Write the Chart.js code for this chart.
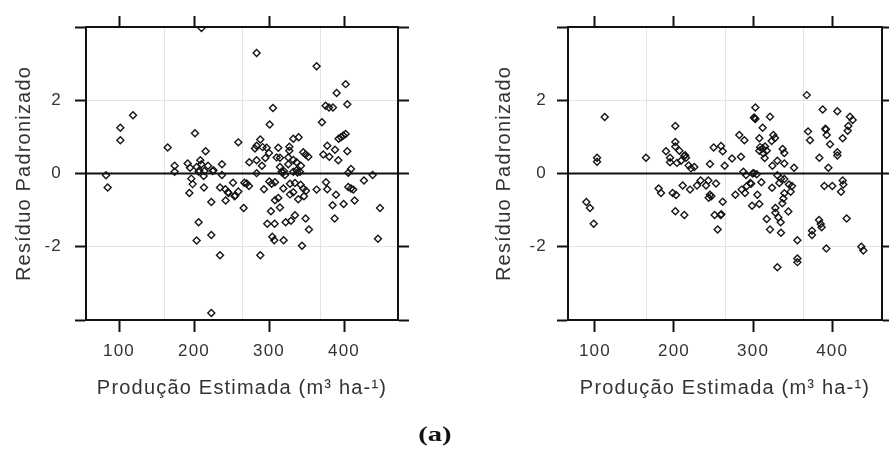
<!DOCTYPE html>
<html>
<head>
<meta charset="utf-8">
<script src="https://cdn.jsdelivr.net/npm/chart.js@4.4.1/dist/chart.umd.min.js"></script>
<style>
  body { margin: 0; background: #fff; }
  #wrap { position: relative; width: 889px; height: 449px; overflow: hidden; }
  #c1 { position: absolute; left: 0; top: 0; }
  #c2 { position: absolute; left: 480px; top: 0; }
  #tag { position: absolute; left: 0; top: 421px; width: 870px; text-align: center;
         font: bold 22px "Liberation Serif", "Times New Roman", serif; color: #111; }
  #tag span { display: inline-block; transform: scaleX(1.3); }
</style>
</head>
<body>
<div id="wrap">
  <canvas id="c1" width="480" height="449"></canvas>
  <canvas id="c2" width="409" height="449"></canvas>
  <div id="tag"><span>(a)</span></div>
</div>
<script>
// eixos
var xTicks = [100, 200, 300, 400];
var yTicks = [-4, -2, 0, 2, 4];
var xLimA = [56, 472];
var xLimB = [66, 463];
var yLim = [-4, 4];
var xTitle = 'Produção Estimada (m³ ha-¹)';
var yTitle = 'Resíduo Padronizado';

// painel esquerdo: produção estimada x resíduo padronizado
var xA = [118.7, 101.8, 101.8, 82.7, 84.9, 164.9, 201.3, 215.5, 259.1, 174.2, 174.2, 191.6, 194.7, 203.5, 208.4, 209.8,
  218.7, 213.8, 206.2, 207, 224.9, 226, 237.3, 237.3, 196.4, 198.2, 212.9, 213.3, 193.8, 223.1, 234.7, 241.8, 245.3, 246,
  254.2, 255, 252, 242.2, 259.1, 267.1, 266.2, 206.2, 223.1, 203.5, 234.7, 223.1, 210,
  283.5, 363.5, 402.2, 390.2, 404.4, 375.5, 380, 385.3, 305.3, 300.9, 370.6, 392.8, 396, 399.1, 402.2, 332.4, 339.5,
  288.4, 283.5, 281.3, 291.5, 296.9, 312.4, 327.1, 327.1, 300, 295.1, 283.5, 273.7, 290.6, 310.2, 314.6, 325.7, 332.4,
  336.8, 345.7, 348.8, 352.4, 377.7, 388, 404.4, 372.4, 380.4, 392.4, 314.6, 316.9, 321.3, 318, 320, 332.4, 336.8, 341.3,
  338, 342.6, 325.7, 409.3, 405.7, 438.2, 426.6, 270.2, 273.3, 283.5, 300.4, 303.5, 308, 293.3, 319.1, 328, 334.6, 342.2,
  345.7, 349.3, 376, 377.7, 363.5, 405.7, 409.3, 412.4, 389.3, 414.2, 328, 332.4, 312.4, 308, 339, 346.6, 314.6, 302.6,
  384.8, 399.5, 448, 334.6, 329.3, 322.2, 297.7, 307.5, 348.8, 387.5, 353.3, 304.4, 307, 319.5, 344, 445.3, 288.4];
var yA = [1.59, 1.25, 0.91, -0.05, -0.38, 0.71, 1.10, 0.61, 0.85, 0.21, 0.05, 0.27, 0.16, 0.18, 0.36, 0.25,
  0.21, 0.07, 0.05, 0.08, 0.07, 0.09, 0.25, -0.04, -0.14, -0.29, -0.07, -0.38, -0.53, -0.78, -0.38, -0.43, -0.51, -0.53,
  -0.62, -0.60, -0.25, -0.74, -0.49, -0.25, -0.94, -1.33, -1.68, -1.83, -2.23, -3.81, 3.97,
  3.29, 2.93, 2.44, 2.20, 1.89, 1.85, 1.80, 1.80, 1.79, 1.34, 1.40, 0.95, 0.99, 1.04, 1.08, 0.95, 0.99,
  0.93, 0.76, 0.68, 0.72, 0.70, 0.70, 0.73, 0.62, 0.56, 0.42, 0.36, 0.31, 0.21, 0.44, 0.43, 0.44, 0.37,
  0.31, 0.58, 0.52, 0.46, 0.76, 0.65, 0.61, 0.52, 0.46, 0.36, 0.18, 0.05, -0.04, 0.02, 0.06, 0.05, 0.09, 0.05,
  0.03, 0.21, 0.25, 0.12, 0.02, -0.04, -0.19, -0.27, -0.34, 0.01, -0.22, -0.28, -0.24, -0.43, -0.41, -0.28, -0.26, -0.31,
  -0.41, -0.47, -0.24, -0.43, -0.44, -0.37, -0.41, -0.44, -0.58, -0.74, -0.57, -0.51, -0.67, -0.73, -0.70, -0.62, -0.93, -1.03,
  -0.87, -0.83, -0.94, -1.14, -1.29, -1.33, -1.37, -1.37, -1.23, -1.23, -1.53, -1.73, -1.82, -1.82, -1.97, -1.78, -2.23];

// painel direito
var xB = [112.4, 102.7, 102.7, 164.6, 89.2, 93.8, 98.5, 201.7, 201.7, 201.7, 189.9, 206.8, 195, 195, 203.8, 208.9,
  213.1, 214, 215.2, 218.6, 221.5, 225.7, 250.2, 259.5, 261.6, 245.5, 180.6, 183.6, 198.3, 202.6, 211, 220.3, 229.1,
  233.7, 243.4, 240.5, 253.1, 245.5, 243.9, 247.2, 201.7, 213.1, 251.4, 259, 255.2,
  367.8, 302.9, 301.2, 302.9, 302, 321.4, 388, 406.5, 422.5, 425.9, 420.4, 419.6, 391.4, 392, 393.1, 369.5, 372, 413.3,
  397.3, 406.5, 406.5, 383.8, 395.2, 312.1, 282.6, 289, 307.9, 325.6, 327.7, 323.5, 308.8, 312.1, 315.1, 317.2, 307.9,
  313, 337.4, 339.5, 273.4, 284.7, 314.7, 264.1, 330.7, 339.5, 351.8, 324.4, 287.7, 291.1, 299.5, 301, 304.6, 330.7,
  335.3, 339.5, 345.4, 349.2, 310.5, 296.5, 297.5, 333.2, 347.5, 339.5, 338.3, 337, 291.9, 285.6, 289.8, 277.6, 324,
  305.4, 261.6, 298.7, 307.9, 259.9, 328.2, 328.2, 344.6, 332, 334.9, 317.2, 321.4, 335.3, 356, 356, 356, 330.7, 390.1,
  400.2, 413.3, 414.1, 411.2, 383.4, 385.5, 386.7, 374.5, 374.5, 418.3, 392.6, 436.9, 439.4];
var yB = [1.54, 0.43, 0.32, 0.43, -0.78, -0.94, -1.37, 1.30, 0.86, 0.74, 0.61, 0.62, 0.43, 0.31, 0.29, 0.35,
  0.48, 0.50, 0.43, 0.22, 0.14, 0.18, 0.71, 0.75, 0.61, 0.26, -0.41, -0.53, -0.53, -0.59, -0.33, -0.44, -0.33,
  -0.19, -0.19, -0.33, -0.27, -0.58, -0.66, -0.62, -1.03, -1.13, -1.13, -1.13, -1.53,
  2.14, 1.80, 1.53, 1.49, 1.51, 1.55, 1.75, 1.70, 1.55, 1.46, 1.30, 1.17, 1.22, 1.20, 1.05, 1.15, 0.91, 0.96,
  0.80, 0.58, 0.49, 0.43, 0.16, 1.25, 1.05, 0.91, 0.96, 1.05, 0.97, 0.89, 0.72, 0.68, 0.74, 0.62, 0.62,
  0.55, 0.67, 0.56, 0.41, 0.46, 0.42, 0.21, 0.35, 0.27, 0.16, 0.21, 0.05, -0.04, 0.00, 0.01, -0.02, -0.05,
  -0.14, -0.15, -0.30, -0.34, -0.24, -0.26, -0.28, -0.26, -0.50, -0.54, -0.68, -0.81, -0.35, -0.44, -0.53, -0.58, -0.39,
  -0.58, -0.77, -0.88, -0.83, -1.11, -0.94, -1.07, -1.04, -1.20, -1.33, -1.24, -1.53, -1.62, -1.82, -2.32, -2.42, -2.56, -0.34,
  -0.34, -0.19, -0.30, -0.50, -1.27, -1.38, -1.47, -1.56, -1.68, -1.23, -2.05, -2.00, -2.10];

Chart.defaults.font.family = '"Liberation Sans", Arial, sans-serif';
Chart.defaults.color = '#333';

var spacing = {
  id: 'spacing',
  beforeDraw: function (chart) { chart.ctx.letterSpacing = '1.2px'; }
};

function pts(xs, ys) {
  return xs.map(function (x, i) { return { x: x, y: ys[i] }; });
}

function fixTicks(list) {
  return function (axis) { axis.ticks = list.map(function (v) { return { value: v }; }); };
}

function quarterTicks(axis) {
  var a = [];
  for (var k = 1; k < 4; k++) a.push({ value: axis.min + (axis.max - axis.min) * k / 4 });
  axis.ticks = a;
}

function makePanel(id, xs, ys, xLim, leftW, rightW, labPad) {
  var black = '#111';
  var edge = function (c) {
    var v = c.tick ? c.tick.value : null;
    return (v === 0 || Math.abs(v) === 4) ? 'rgba(0,0,0,0)' : '#e4e4e4';
  };
  return new Chart(document.getElementById(id), {
    type: 'scatter',
    data: {
      datasets: [{
        data: pts(xs, ys),
        pointStyle: 'rectRot',
        pointRadius: 3.5,
        borderColor: '#151515',
        backgroundColor: 'rgba(0,0,0,0)',
        borderWidth: 1.4,
        order: 1
      }, {
        type: 'line',
        data: [{ x: xLim[0], y: 0 }, { x: xLim[1], y: 0 }],
        borderColor: black,
        borderWidth: 2,
        pointRadius: 0,
        order: 2
      }]
    },
    plugins: [spacing],
    options: {
      responsive: false,
      animation: false,
      layout: { padding: 0 },
      plugins: { legend: { display: false }, tooltip: { enabled: false } },
      scales: {
        x: {
          type: 'linear', position: 'bottom', min: xLim[0], max: xLim[1],
          afterBuildTicks: fixTicks(xTicks),
          afterFit: function (s) { s.height = 129; },
          grid: { drawOnChartArea: false, tickLength: 12, tickColor: black, tickWidth: 2 },
          border: { color: black, width: 2 },
          ticks: { padding: 9, font: { size: 17 }, maxRotation: 0 },
          title: { display: true, text: xTitle, font: { size: 20 }, padding: { top: 0, bottom: 49 } }
        },
        xg: {
          type: 'linear', position: 'bottom', min: xLim[0], max: xLim[1],
          afterBuildTicks: quarterTicks,
          afterFit: function (s) { s.height = 0; },
          grid: { color: '#e4e4e4', drawTicks: false },
          border: { display: false },
          ticks: { display: false }
        },
        x2: {
          type: 'linear', position: 'top', min: xLim[0], max: xLim[1],
          afterBuildTicks: fixTicks(xTicks),
          afterFit: function (s) { s.height = 27; },
          grid: { drawOnChartArea: false, tickLength: 11, tickColor: black, tickWidth: 2 },
          border: { color: black, width: 2 },
          ticks: { display: false }
        },
        y: {
          type: 'linear', position: 'left', min: yLim[0], max: yLim[1],
          afterBuildTicks: fixTicks(yTicks),
          afterFit: function (s) { s.width = leftW; },
          grid: { color: edge, tickLength: 11, tickColor: black, tickWidth: 2 },
          border: { color: black, width: 2 },
          ticks: {
            padding: labPad, font: { size: 17 },
            callback: function (v) { return Math.abs(v) === 4 ? '' : v; }
          },
          title: { display: true, text: yTitle, font: { size: 20 }, padding: { top: 12, bottom: 0 } }
        },
        y2: {
          type: 'linear', position: 'right', min: yLim[0], max: yLim[1],
          afterBuildTicks: fixTicks(yTicks),
          afterFit: function (s) { s.width = rightW; },
          grid: { drawOnChartArea: false, tickLength: 11, tickColor: black, tickWidth: 2 },
          border: { color: black, width: 2 },
          ticks: { display: false }
        }
      }
    }
  });
}

makePanel('c1', xA, yA, xLimA, 86, 82, 13);
makePanel('c2', xB, yB, xLimB, 88, 7, 10);
</script>
</body>
</html>
